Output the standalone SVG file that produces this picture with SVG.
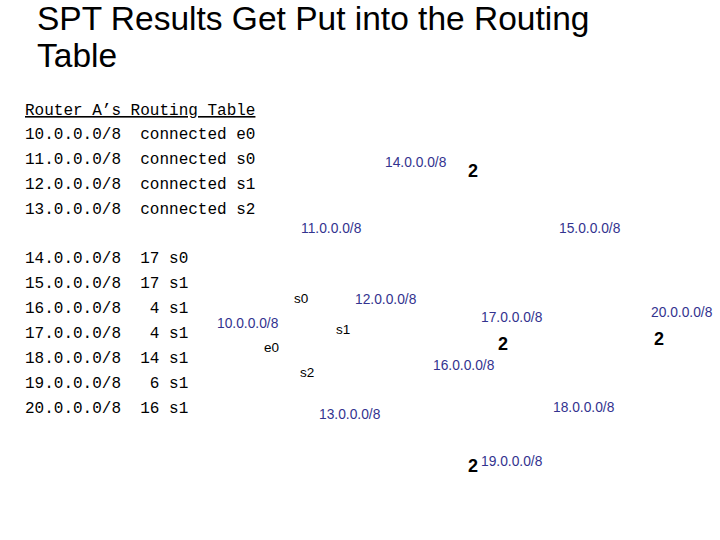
<svg xmlns="http://www.w3.org/2000/svg" width="720" height="540" viewBox="0 0 720 540">
<style>
.t{font-family:"Liberation Sans",Arial,sans-serif;font-size:33.5px;fill:#000}
.m{font-family:"Liberation Mono","Courier New",monospace;font-size:16px;fill:#000;white-space:pre}
.b{font-family:"Liberation Sans",Arial,sans-serif;font-size:13.8px;fill:#33338f}
.k{font-family:"Liberation Sans",Arial,sans-serif;font-size:13.5px;fill:#000}
.n{font-family:"Liberation Sans",Arial,sans-serif;font-size:18px;font-weight:bold;fill:#000}
</style>
<rect width="720" height="540" fill="#fff"/>
<g id="title"><text class="t" x="37" y="30">SPT Results Get Put into the Routing</text><text class="t" x="37" y="67">Table</text></g>
<g id="table">
<text class="m" x="25" y="115" text-decoration="underline" font-size="15">Router A’s Routing Table</text>
<text class="m" x="25" y="139">10.0.0.0/8  connected e0</text>
<text class="m" x="25" y="164">11.0.0.0/8  connected s0</text>
<text class="m" x="25" y="189">12.0.0.0/8  connected s1</text>
<text class="m" x="25" y="214">13.0.0.0/8  connected s2</text>
<text class="m" x="25" y="263">14.0.0.0/8  17 s0</text>
<text class="m" x="25" y="288">15.0.0.0/8  17 s1</text>
<text class="m" x="25" y="313">16.0.0.0/8   4 s1</text>
<text class="m" x="25" y="338">17.0.0.0/8   4 s1</text>
<text class="m" x="25" y="363">18.0.0.0/8  14 s1</text>
<text class="m" x="25" y="388">19.0.0.0/8   6 s1</text>
<text class="m" x="25" y="413">20.0.0.0/8  16 s1</text>
</g>
<g id="labels">
<text class="b" x="385" y="167">14.0.0.0/8</text>
<text class="b" x="301" y="233">11.0.0.0/8</text>
<text class="b" x="559" y="233">15.0.0.0/8</text>
<text class="b" x="355" y="304">12.0.0.0/8</text>
<text class="b" x="217" y="328">10.0.0.0/8</text>
<text class="b" x="481" y="322">17.0.0.0/8</text>
<text class="b" x="651" y="317">20.0.0.0/8</text>
<text class="b" x="433" y="370">16.0.0.0/8</text>
<text class="b" x="553" y="412">18.0.0.0/8</text>
<text class="b" x="319" y="419">13.0.0.0/8</text>
<text class="b" x="481" y="466">19.0.0.0/8</text>
<text class="k" x="294" y="303">s0</text>
<text class="k" x="336" y="334">s1</text>
<text class="k" x="264" y="352">e0</text>
<text class="k" x="300" y="377">s2</text>
<text class="n" x="468" y="177">2</text>
<text class="n" x="498" y="350">2</text>
<text class="n" x="654" y="345">2</text>
<text class="n" x="468" y="472">2</text>
</g>
</svg>
